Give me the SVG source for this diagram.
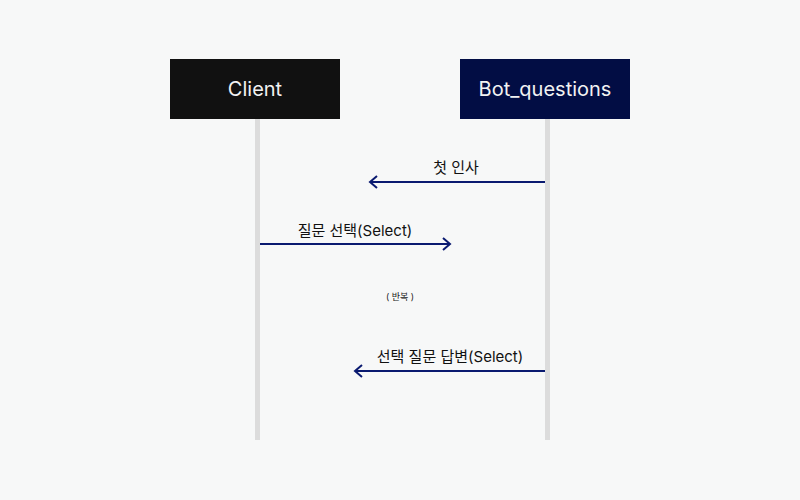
<svg xmlns="http://www.w3.org/2000/svg" width="800" height="500" viewBox="0 0 800 500">
<defs>
<marker id="arr" markerWidth="12" markerHeight="14" refX="9" refY="7" orient="auto" markerUnits="userSpaceOnUse">
<path d="M2,1 L9,7 L2,13" fill="none" stroke="#0a1a70" stroke-width="2"/>
</marker>
<style>
.bg{fill:#f7f8f8}
.life{stroke:#dcdcdc;stroke-width:5}
.msg{stroke:#0a1a70;stroke-width:2;fill:none}
.lbl{font-family:Inter,"Noto Sans CJK KR",sans-serif;font-size:15px;fill:#111;text-anchor:middle}
.node{font-family:Inter,"Noto Sans CJK KR",sans-serif;font-size:20px;fill:#f2f2f2;text-anchor:middle}
.note{font-family:Inter,"Noto Sans CJK KR",sans-serif;font-size:9px;fill:#222;text-anchor:middle}
</style>
</defs>
<rect class="bg" width="800" height="500"/>
<g id="lifelines">
<line class="life" x1="257.5" y1="119" x2="257.5" y2="440"/>
<line class="life" x1="547.5" y1="119" x2="547.5" y2="440"/>
</g>
<g id="client">
<rect x="170" y="59" width="170" height="60" fill="#111111"/>
<text class="node" x="255" y="96">Client</text>
</g>
<g id="bot_questions">
<rect x="460" y="59" width="170" height="60" fill="#020d44"/>
<text class="node" x="545" y="96">Bot_questions</text>
</g>
<g id="connectors">
<line class="msg" x1="545" y1="182" x2="370" y2="182" marker-end="url(#arr)"/>
<text class="lbl" x="456" y="173">첫 인사</text>
<line class="msg" x1="260" y1="244" x2="450" y2="244" marker-end="url(#arr)"/>
<text class="lbl" x="355" y="236">질문 선택(Select)</text>
<text class="note" x="400" y="300">( 반복 )</text>
<line class="msg" x1="545" y1="371" x2="355" y2="371" marker-end="url(#arr)"/>
<text class="lbl" x="450" y="362">선택 질문 답변(Select)</text>
</g>
</svg>
